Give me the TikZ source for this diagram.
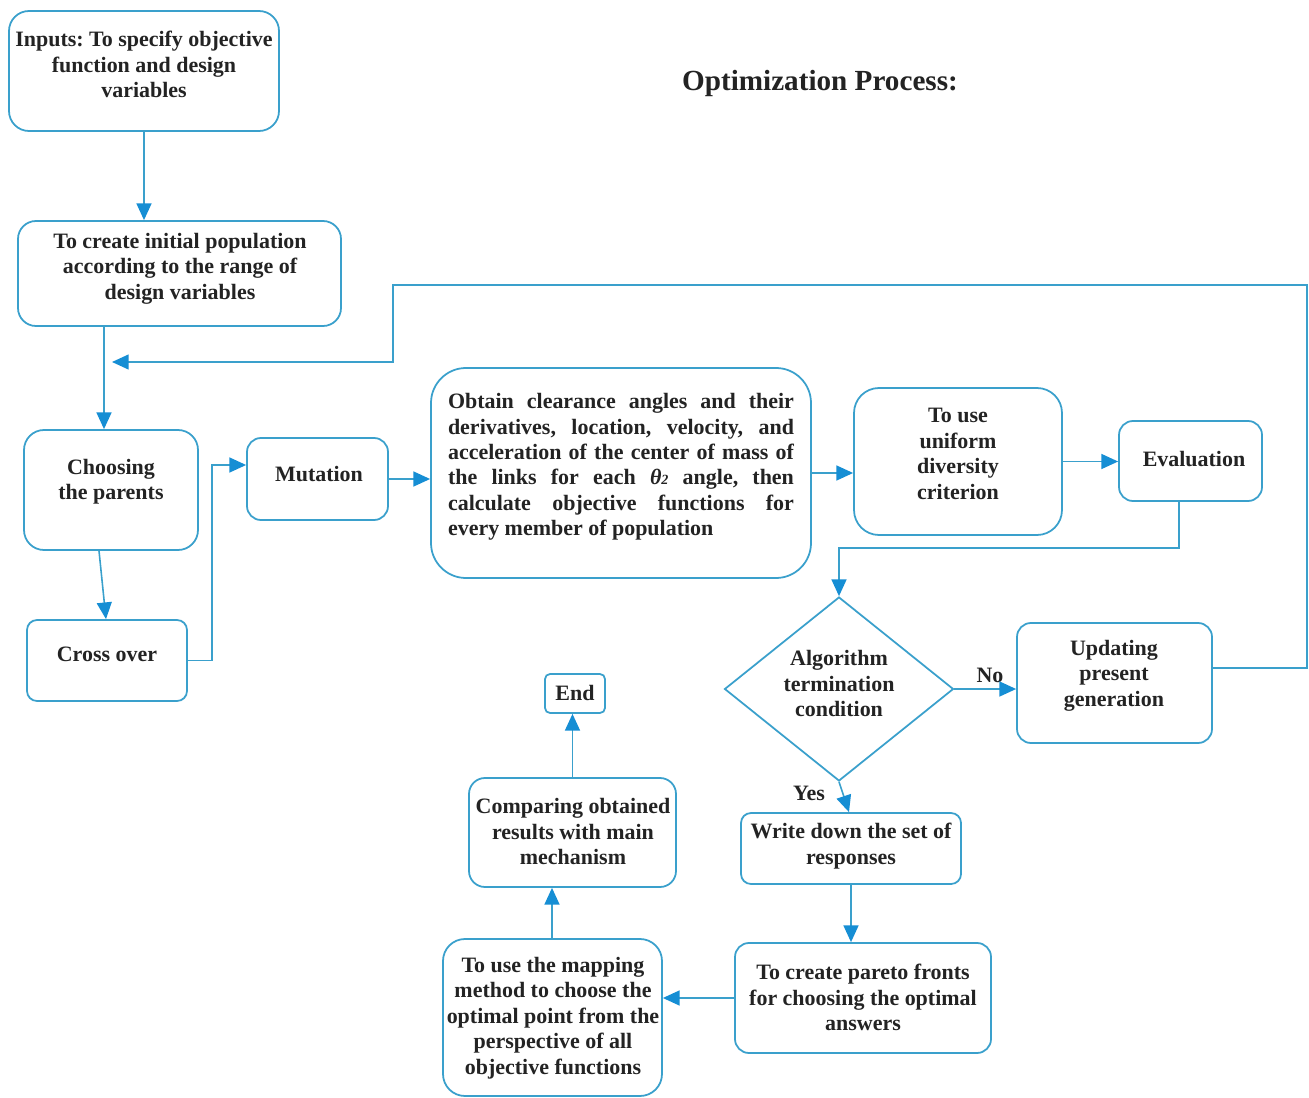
\documentclass[tikz,border=0pt]{standalone}
\usepackage{fontspec}
\setmainfont{Liberation Serif}
\usetikzlibrary{arrows.meta,fit,shapes.geometric}
\definecolor{boxblue}{RGB}{58,160,204}
\definecolor{tipblue}{RGB}{22,142,212}
\definecolor{txt}{RGB}{35,35,35}
\frenchspacing
\tikzset{
  bx/.style={draw=boxblue, line width=1pt, inner sep=0pt},
  tx/.style={font=\fontsize{12.5}{14.5}\selectfont\bfseries, text=txt, align=center, inner sep=0pt},
  arr/.style={draw=boxblue, line width=0.9pt, -{Triangle[length=9.5pt,width=8.5pt,color=tipblue]}},
}
\begin{document}
\begin{tikzpicture}[x=0.02cm,y=-0.02cm]
\useasboundingbox (0,0) rectangle (1309,1098);
\fill[white] (0,0) rectangle (1309,1098);

% boxes
\node[bx, rounded corners=0.4cm,  fit={(9,11)(279,131)}]    (inp) {};
\node[bx, rounded corners=0.36cm, fit={(18,221)(341,326)}]  (cre) {};
\node[bx, rounded corners=0.4cm,  fit={(24,430)(198,550)}]  (cho) {};
\node[bx, rounded corners=0.2cm,  fit={(27,620)(187,701)}]  (crs) {};
\node[bx, rounded corners=0.28cm, fit={(247,438)(388,520)}] (mut) {};
\node[bx, rounded corners=0.7cm,  fit={(431,368)(811,578)}] (obt) {};
\node[bx, rounded corners=0.5cm,  fit={(854,388)(1062,535)}] (uni) {};
\node[bx, rounded corners=0.28cm, fit={(1119,421)(1262,501)}] (evl) {};
\node[bx, rounded corners=0.28cm, fit={(1017,623)(1212,743)}] (upd) {};
\node[bx, rounded corners=0.2cm,  fit={(741,813)(961,884)}] (wri) {};
\node[bx, rounded corners=0.28cm, fit={(735,943)(991,1053)}] (par) {};
\node[bx, rounded corners=0.44cm, fit={(443,939)(662,1096)}] (map) {};
\node[bx, rounded corners=0.32cm, fit={(469,778)(676,887)}] (cmp) {};
\node[bx, rounded corners=0.1cm,  fit={(545,674)(605,713)}] (endn) {};
\node[bx, diamond, minimum width=4.58cm, minimum height=3.68cm] (dia) at (839,689) {};

% texts
\node[font=\fontsize{16.6}{20}\selectfont\bfseries, text=txt] (title) at (820,83) {Optimization Process:};
\node[tx] (tinp) at (144,64.5) {Inputs: To specify objective\\function and design\\variables};
\node[tx] (tcre) at (180,268.5) {To create initial population\\according to the range of\\design variables};
\node[tx] (tcho) at (111,481.5) {Choosing\\the parents};
\node[tx] (tcrs) at (107,654) {Cross over};
\node[tx] (tmut) at (319,474) {Mutation};
\node[tx, text width=6.92cm, align=justify] (tobt) at (621,467) {Obtain clearance angles and their\linebreak derivatives, location, velocity, and\linebreak acceleration of the center of mass of\linebreak the links for each \textit{θ}{\footnotesize\itshape 2} angle, then\linebreak calculate objective functions for\linebreak every member of population};
\node[tx] (tuni) at (958,454) {To use\\uniform\\diversity\\criterion};
\node[tx] (tevl) at (1194,459) {Evaluation};
\node[tx] (tdia) at (839,683.5) {Algorithm\\termination\\condition};
\node[tx] (tupd) at (1114,675.5) {Updating\\present\\generation};
\node[tx] (twri) at (851,846) {Write down the set of\\responses};
\node[tx] (tpar) at (863,997.5) {To create pareto fronts\\for choosing the optimal\\answers};
\node[tx] (tmap) at (553,1018) {To use the mapping\\method to choose the\\optimal point from the\\perspective of all\\objective functions};
\node[tx] (tcmp) at (573,831.5) {Comparing obtained\\results with main\\mechanism};
\node[tx] (tend) at (575,693) {End};
\node[tx] (tno) at (990,675) {No};
\node[tx] (tyes) at (809,793) {Yes};

% helper coordinates
\coordinate (x104) at (104,0);
\coordinate (x99) at (99,0);
\coordinate (x106) at (106,0);
\coordinate (x849) at (849,0);
\coordinate (x552) at (552,0);
\coordinate (x1179) at (1179,0);
\coordinate (y465) at (0,465);
\coordinate (y548) at (0,548);
\coordinate (y668) at (0,668);
\coordinate (loopend) at (112,362);

% connectors
\draw[arr] (inp.south) -- (inp.south |- cre.north);
\draw[arr] (x104 |- cre.south) -- (x104 |- cho.north);
\draw[arr] (x99 |- cho.south) -- (x106 |- crs.north);
\draw[arr] (crs.east) -- ++(24,0) |- (y465 -| mut.west);
\draw[arr] (mut.east) -- (mut.east -| obt.west);
\draw[arr] (obt.east) -- (obt.east -| uni.west);
\draw[arr] (uni.east) -- (uni.east -| evl.west);
\draw[arr] (x1179 |- evl.south) -- (x1179 |- y548) -| (dia.north);
\draw[arr] (dia.east) -- (dia.east -| upd.west);
\draw[arr] (y668 -| upd.east) -- (1307,668) -- (1307,285) -- (393,285) -- (393,362) -- (loopend);
\draw[arr] (dia.south) -- (x849 |- wri.north);
\draw[arr] (wri.south) -- (wri.south |- par.north);
\draw[arr] (par.west) -- (par.west -| map.east);
\draw[arr] (x552 |- map.north) -- (x552 |- cmp.south);
\draw[arr] (cmp.north) -- (cmp.north |- endn.south);
\end{tikzpicture}
\end{document}
